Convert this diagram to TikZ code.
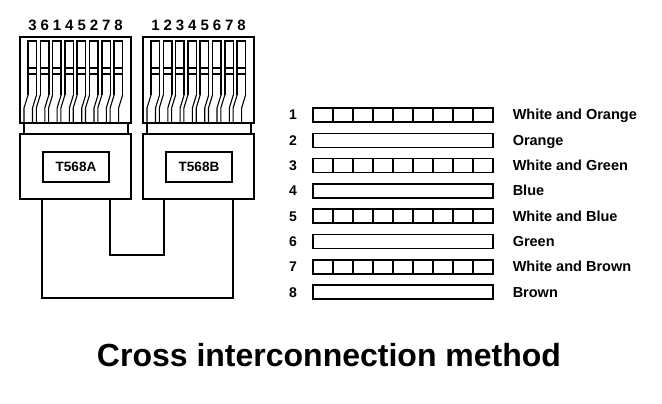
\documentclass[tikz,border=0pt]{standalone}
\usepackage{fontspec}
\setmainfont{Liberation Sans}
\begin{document}
\begin{tikzpicture}[x=1pt, y=-1pt, line width=1.5pt]
    % Define styles
    \tikzset{digit/.style={font=\bfseries\fontsize{15}{15}\selectfont, inner sep=0pt, anchor=base},
             wire/.style={font=\bfseries\fontsize{14.5}{14.5}\selectfont, anchor=base west, inner sep=0pt},
             std/.style={draw, font=\bfseries\fontsize{13.5}{13.5}\selectfont, minimum width=66pt, minimum height=30pt, inner sep=0pt},
             title/.style={font=\bfseries\fontsize{32}{32}\selectfont, inner sep=0pt, anchor=base}}
    \useasboundingbox (0,0) rectangle (662,404);

    % Plugs
    \foreach \dx/\lab/\digits/\nm in {0/T568A/{3,6,1,4,5,2,7,8}/a, 123/T568B/{1,2,3,4,5,6,7,8}/b} {
        \begin{scope}[xshift=\dx]
            \draw (20,37) rectangle (131,123);
            \draw (24,123) rectangle (128,134);
            \draw (20,134) rectangle (131,199);
            \node (\nm) [std] at (76,167) {\lab};
            \foreach \d [count=\i from 0] in \digits {
                \pgfmathsetmacro{\xa}{28+12.3*\i}
                \pgfmathsetmacro{\xb}{\xa+8.5}
                \draw (\xa,95) -- (\xa,41) -- (\xb,41) -- (\xb,95);
                \draw[line width=1.1pt] (\xa,68) -- (\xb,68) (\xa,74) -- (\xb,74);
                \draw[line width=1.1pt] (\xa,95) -- (\xa-4,108) -- (\xa-4,123);
                \draw[line width=1.1pt] (\xb,95) -- (\xb-4,108) -- (\xb-4,123);
                \node[digit] at (\xa+4.5,31) {\d};
            }
        \end{scope}
    }
    \coordinate (outA) at (42,199);
    \coordinate (inA) at (110,199);
    \coordinate (inB) at (164,199);
    \coordinate (outB) at (233,199);
    \draw (outA) |- (233,298) -- (outB);
    \draw (inA) |- (164,255) -- (inB);

    % Wire colours
    \foreach \n/\txt/\striped [count=\i from 0] in {1/White and Orange/1, 2/Orange/0, 3/White and Green/1, 4/Blue/0,
        5/White and Blue/1, 6/Green/0, 7/White and Brown/1, 8/Brown/0} {
        \pgfmathsetmacro{\y}{115+25.3*\i}
        \node[digit, font=\bfseries\fontsize{14}{14}\selectfont] at (293,\y+5) {\n};
        \draw (313,\y-7) rectangle (493,\y+7);
        \ifnum\striped=1
            \foreach \k in {1,...,8} { \draw[line width=1.1pt] (313+20*\k,\y-7) -- (313+20*\k,\y+7); }
        \fi
        \node[wire] at (512,\y+5) {\txt};
    }

    \node[title] (ttl) at (329,366) {Cross interconnection method};
\end{tikzpicture}
\end{document}
